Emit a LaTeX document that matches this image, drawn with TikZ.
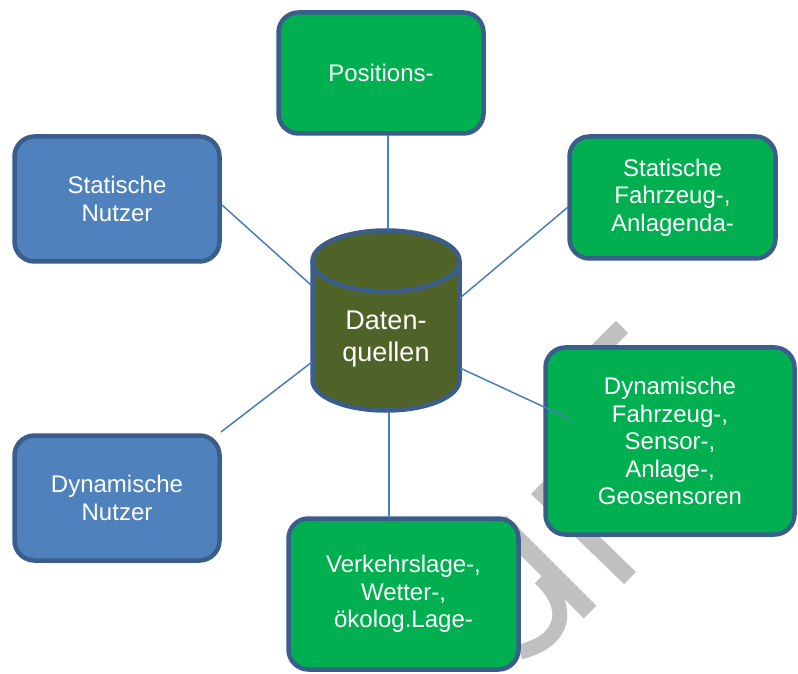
\documentclass[tikz,border=0pt]{standalone}
\usepackage{fontspec}
\setmainfont{Liberation Sans}
\definecolor{gfill}{RGB}{0,176,80}
\definecolor{bfill}{RGB}{79,129,189}
\definecolor{bord}{RGB}{58,93,140}
\definecolor{cylfill}{RGB}{79,98,40}
\definecolor{connc}{RGB}{74,126,187}
\definecolor{wmgray}{RGB}{192,192,192}
\begin{document}
\begin{tikzpicture}[x=1pt,y=1pt]
\tikzset{
  boxbase/.style={draw=bord,line width=4.5pt,rounded corners=20pt,text=white,align=center,inner sep=0pt,font=\fontsize{24}{27.5}\selectfont},
  gbox/.style={boxbase,fill=gfill},
  bbox/.style={boxbase,fill=bfill},
  conn/.style={draw=connc,line width=1.5pt},
  wmark/.style={draw=wmgray,line width=17pt}
}
\useasboundingbox (0,0) rectangle (798,673);
% watermark fragments
\draw[wmark] (622,346) -- (560,284);
\draw[wmark] (537,185) -- (630,95);
\draw[wmark,line width=18pt] (500,151) -- (590,61);
\draw[wmark,line width=15pt] (540,95) .. controls (570,68) and (568,33) .. (520,21);
% boxes
\node[gbox,minimum width=205pt,minimum height=121pt] (pos) at (381,600) {Positions-};
\node[gbox,minimum width=206pt,minimum height=122pt] (sfa) at (672.5,475.5) {Statische\\Fahrzeug-,\\Anlagenda-};
\node[gbox,minimum width=249pt,minimum height=187pt] (dfa) at (670,232) {Dynamische\\Fahrzeug-,\\Sensor-,\\Anlage-,\\Geosensoren};
\node[gbox,minimum width=230pt,minimum height=151pt] (vkl) at (403.5,79) {Verkehrslage-,\\Wetter-,\\ökolog.Lage-};
\node[bbox,minimum width=205pt,minimum height=125pt] (sn) at (117,474) {Statische\\Nutzer};
\node[bbox,minimum width=205pt,minimum height=125pt] (dn) at (117,175) {Dynamische\\Nutzer};
% cylinder
\fill[cylfill] (312.5,412) -- (312.5,293) arc[start angle=180,end angle=360,x radius=73.5,y radius=30.5] -- (459.5,412) -- cycle;
\draw[bord,line width=4.5pt] (312.5,412) -- (312.5,293) arc[start angle=180,end angle=360,x radius=73.5,y radius=30.5] -- (459.5,412);
\filldraw[fill=cylfill,draw=bord,line width=4.5pt] (386,412) ellipse[x radius=73.5,y radius=30.5];
\node[text=white,align=center,font=\fontsize{27}{31.5}\selectfont] (cyl) at (386,334) {Daten-\\quellen};
% connector end points
\coordinate (cPos) at (388,444);
\coordinate (bPos) at (388,538);
\coordinate (cSfa) at (460,375);
\coordinate (bSfa) at (568,466);
\coordinate (cDfa) at (460,305);
\coordinate (bDfa) at (570,254);
\coordinate (cVkl) at (389,261);
\coordinate (bVkl) at (389,157);
\coordinate (cSn) at (311,388);
\coordinate (bSn) at (222,468);
\coordinate (cDn) at (312,311);
\coordinate (bDn) at (221,241);
\draw[conn] (bPos) -- (cPos);
\draw[conn] (bSfa) -- (cSfa);
\draw[conn] (cDfa) -- (bDfa);
\draw[conn] (cVkl) -- (bVkl);
\draw[conn] (bSn) -- (cSn);
\draw[conn] (cDn) -- (bDn);
\end{tikzpicture}
\end{document}
